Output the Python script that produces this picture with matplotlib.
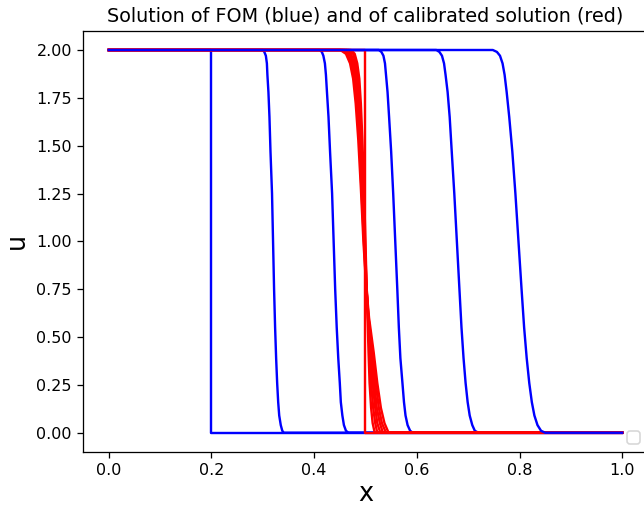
import matplotlib
matplotlib.use('Agg')
import matplotlib.pyplot as plt

# FOM snapshots (blue): x positions and u values
u_front = [2.0, 2.00, 1.99, 1.97, 1.93, 1.87, 1.78, 1.65, 1.47, 1.25, 1.00,
           0.75, 0.55, 0.39, 0.26, 0.16, 0.09, 0.04, 0.01, 0.00, 0.0]

x_fom0 = [0.0, 0.2, 0.2, 1.0]
u_fom0 = [2.0, 2.0, 0.0, 0.0]
x_fom1 = [0.0, 0.300, 0.303, 0.306, 0.308, 0.309, 0.311, 0.313, 0.315, 0.318, 0.320,
          0.322, 0.324, 0.326, 0.328, 0.330, 0.332, 0.335, 0.338, 0.341, 1.0]
x_fom2 = [0.0, 0.411, 0.415, 0.418, 0.421, 0.423, 0.425, 0.428, 0.431, 0.435, 0.438,
          0.441, 0.444, 0.447, 0.450, 0.452, 0.455, 0.458, 0.462, 0.467, 1.0]
x_fom3 = [0.0, 0.526, 0.531, 0.535, 0.538, 0.540, 0.543, 0.546, 0.550, 0.554, 0.558,
          0.562, 0.565, 0.568, 0.572, 0.575, 0.578, 0.582, 0.587, 0.592, 1.0]
x_fom4 = [0.0, 0.638, 0.644, 0.649, 0.653, 0.656, 0.660, 0.664, 0.668, 0.673, 0.678,
          0.683, 0.687, 0.691, 0.695, 0.699, 0.703, 0.708, 0.713, 0.720, 1.0]
x_fom5 = [0.0, 0.748, 0.756, 0.762, 0.767, 0.771, 0.775, 0.780, 0.786, 0.792, 0.798,
          0.804, 0.809, 0.814, 0.819, 0.824, 0.829, 0.835, 0.842, 0.850, 1.0]

# calibrated solutions (red)
u_cal = [2.0, 2.0, 1.98, 1.93, 1.85, 1.72, 1.53, 1.28, 1.0, 0.78, 0.60, 0.42, 0.26, 0.13, 0.05, 0.0, 0.0]
x_cal = [
    [0.0, 0.472, 0.479, 0.484, 0.488, 0.491, 0.494, 0.497, 0.500, 0.502, 0.504, 0.506, 0.508, 0.511, 0.514, 0.518, 1.0],
    [0.0, 0.468, 0.476, 0.481, 0.486, 0.489, 0.492, 0.496, 0.499, 0.502, 0.505, 0.508, 0.511, 0.515, 0.519, 0.523, 1.0],
    [0.0, 0.464, 0.472, 0.478, 0.483, 0.487, 0.491, 0.495, 0.498, 0.502, 0.505, 0.510, 0.514, 0.519, 0.523, 0.529, 1.0],
    [0.0, 0.459, 0.469, 0.476, 0.481, 0.485, 0.489, 0.493, 0.498, 0.501, 0.506, 0.512, 0.517, 0.522, 0.528, 0.534, 1.0],
    [0.0, 0.455, 0.465, 0.473, 0.478, 0.483, 0.488, 0.492, 0.497, 0.501, 0.506, 0.514, 0.520, 0.526, 0.532, 0.540, 1.0],
    [0.0, 0.451, 0.462, 0.470, 0.476, 0.481, 0.486, 0.491, 0.496, 0.501, 0.507, 0.516, 0.523, 0.530, 0.537, 0.545, 1.0],
]
x_cal_step = [0.0, 0.5, 0.5, 1.0]
u_cal_step = [2.0, 2.0, 0.0, 0.0]

fig = plt.figure(figsize=(5.6, 4.4), dpi=115)
ax = fig.add_axes([0.129, 0.107, 0.877, 0.832])

ax.plot(x_fom0, u_fom0, color='blue', lw=1.5)
for xs in [x_fom1, x_fom2, x_fom3, x_fom4]:
    ax.plot(xs, u_front, color='blue', lw=1.5)
ax.plot(x_cal_step, u_cal_step, color='red', lw=1.5)
for xs in x_cal:
    ax.plot(xs, u_cal, color='red', lw=1.5)
ax.plot(x_fom5, u_front, color='blue', lw=1.5)

ax.set_xlim(-0.05, 1.05)
ax.set_ylim(-0.1, 2.1)
ax.set_xlabel('x', fontsize=16, labelpad=2)
ax.set_ylabel('u', fontsize=16)
ax.set_title('Solution of FOM (blue) and of calibrated solution (red)', fontsize=12)
ax.legend(handles=[], loc='lower right')

fig.savefig('out.png', dpi=115)
